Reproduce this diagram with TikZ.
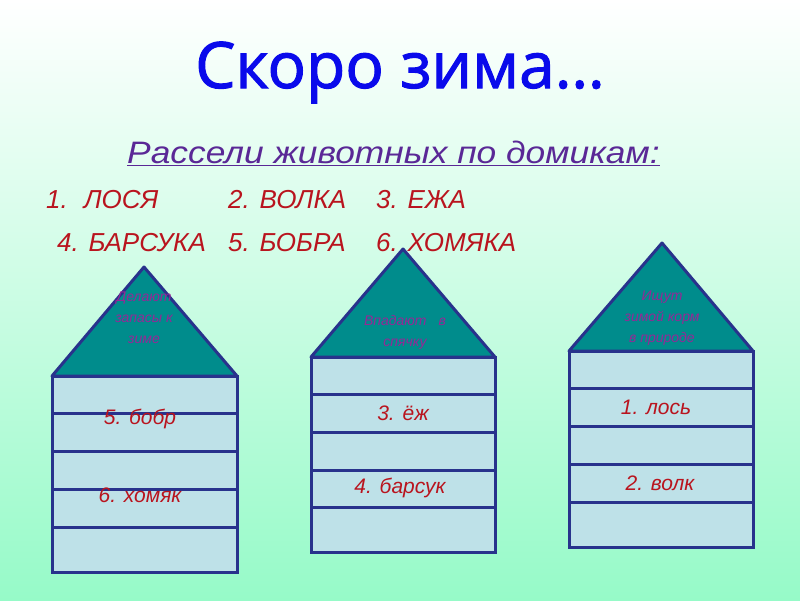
\documentclass[tikz,border=0pt]{standalone}
\usepackage{fontspec}
\setmainfont{Liberation Sans}
\newfontfamily\titlefont[FakeBold=1.6]{Open Sans}
\definecolor{bgbot}{RGB}{150,250,200}
\definecolor{bgmid}{RGB}{205,255,232}
\definecolor{titleblue}{RGB}{10,10,235}
\definecolor{subpurple}{RGB}{90,40,150}
\definecolor{listred}{RGB}{185,20,30}
\definecolor{rooffill}{RGB}{0,140,140}
\definecolor{edgeblue}{RGB}{40,50,140}
\definecolor{bodyfill}{RGB}{190,225,232}
\definecolor{roofpurple}{RGB}{150,40,150}
\tikzset{
  roof/.style={fill=rooffill, draw=edgeblue, line width=3pt, line join=round},
  body/.style={fill=bodyfill, draw=edgeblue, line width=3pt},
  rowline/.style={draw=edgeblue, line width=3pt},
  listitem/.style={anchor=base west, inner sep=0pt, text=listred, font=\itshape\fontsize{26}{30}\selectfont},
  rowtext/.style={inner sep=0pt, text=listred, font=\itshape\fontsize{21}{24}\selectfont},
  rooftext/.style={inner sep=0pt, text=roofpurple, align=center, font=\itshape\fontsize{14}{21}\selectfont}
}
\begin{document}
\begin{tikzpicture}[x=1pt,y=-1pt]
\useasboundingbox (0,0) rectangle (800,600);
\shade[top color=white, middle color=bgmid, bottom color=bgbot] (0,0) rectangle (800,600);

% title
\node[anchor=base, inner sep=0pt, text=titleblue, font=\titlefont\fontsize{64}{70}\selectfont] (title) at (400,88) {Скоро зима…};
\node[anchor=base west, inner sep=0pt, text=subpurple, font=\itshape\fontsize{31}{34}\selectfont] (sub) at (127,163) {\scalebox{1.14}[1]{\underline{Рассели животных по домикам:}}};

% list
\node[listitem] (i1) at (46,208) {1.\hspace{16pt}ЛОСЯ};
\node[listitem] (i2) at (228,208) {2. ВОЛКА};
\node[listitem] (i3) at (376,208) {3. ЕЖА};
\node[listitem] (i4) at (57,251) {4. БАРСУКА};
\node[listitem] (i5) at (228,251) {5. БОБРА};
\node[listitem] (i6) at (376,251) {6. ХОМЯКА};

% house 1
\draw[body] (52,376) rectangle (237,572);
\foreach \yy in {413,451,489,527} \draw[rowline] (52,\yy) -- (237,\yy);
\draw[roof] (52,376) -- (144,267) -- (237,376) -- cycle;
\node[rooftext] (r1) at (144,318) {Делают\\запасы к\\зиме};
\node[rowtext] (h1a) at (140,419) {5. бобр};
\node[rowtext] (h1b) at (140,495) {6. хомяк};

% house 2
\draw[body] (311,357) rectangle (495,552);
\foreach \yy in {394,432,470,507} \draw[rowline] (311,\yy) -- (495,\yy);
\draw[roof] (311,357) -- (403,249) -- (495,357) -- cycle;
\node[rooftext] (r2) at (405,332) {Впадают\hspace{12pt}в\\спячку};
\node[rowtext] (h2a) at (403,413) {3. ёж};
\node[rowtext] (h2b) at (400,488) {4. барсук};

% house 3
\draw[body] (569,351) rectangle (753,547);
\foreach \yy in {388,426,464,502} \draw[rowline] (569,\yy) -- (753,\yy);
\draw[roof] (569,351) -- (662,243) -- (753,351) -- cycle;
\node[rooftext] (r3) at (662,318) {Ищут\\зимой корм\\в природе};
\node[rowtext] (h3a) at (656,407) {1. лось};
\node[rowtext] (h3b) at (660,483) {2. волк};
\end{tikzpicture}
\end{document}
